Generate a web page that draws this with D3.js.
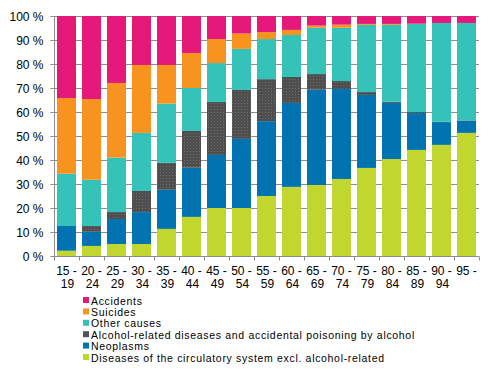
<!DOCTYPE html>
<html>
<head>
<meta charset="utf-8">
<script src="https://cdn.jsdelivr.net/npm/d3@7"></script>
<style>
  body { margin: 0; background: #fff; }
  svg { font-family: "Liberation Sans", Arial, sans-serif; }
</style>
</head>
<body>
<script>
const ageGroups = ['15 - 19','20 - 24','25 - 29','30 - 34','35 - 39','40 - 44','45 - 49','50 - 54',
  '55 - 59','60 - 64','65 - 69','70 - 74','75 - 79','80 - 84','85 - 89','90 - 94','95 -'];

// share of deaths, %
const circulatory = [2.2, 4.2, 5.0, 5.0, 11.3, 16.3, 20.0, 20.0, 25.0, 28.8, 29.6, 32.1, 36.7, 40.4, 44.2, 46.3, 51.3];
const neoplasms   = [10.3, 5.9, 10.4, 13.3, 16.3, 20.5, 22.1, 28.8, 31.2, 35.0, 39.7, 37.5, 30.4, 23.4, 15.4, 9.5, 5.0];
const alcohol     = [0.0, 2.4, 2.9, 8.8, 11.2, 15.3, 22.1, 20.4, 17.5, 10.8, 6.5, 3.3, 1.2, 0.5, 0.4, 0.1, 0.2];
const otherCauses = [21.8, 19.3, 22.7, 24.2, 24.7, 17.9, 16.2, 17.1, 16.7, 17.5, 19.3, 22.2, 28.0, 32.0, 36.7, 41.2, 40.6];
const suicides    = [31.5, 33.6, 31.1, 28.3, 16.1, 14.6, 10.0, 6.4, 2.9, 2.1, 0.9, 1.3, 0.4, 0.4, 0.1, 0.0, 0.0];
const accidents   = [34.2, 34.6, 27.9, 20.4, 20.4, 15.4, 9.6, 7.3, 6.7, 5.8, 4.0, 3.6, 3.3, 3.3, 3.2, 2.9, 2.9];

const yTicks = [0,10,20,30,40,50,60,70,80,90,100];

const seriesNames = ['Diseases of the circulatory system excl. alcohol-related','Neoplasms',
  'Alcohol-related diseases and accidental poisoning by alcohol','Other causes','Suicides','Accidents'];
const seriesData = [circulatory, neoplasms, alcohol, otherCauses, suicides, accidents];
const colors = ['#c1d72f','#0073b0','url(#dots)','#35c2b9','#f7931e','#e5197a'];
const legendColors = ['#c1d72f','#0073b0','#555555','#35c2b9','#f7931e','#e5197a'];

const rows = ageGroups.map((g,i) => {
  const r = {group: g};
  seriesNames.forEach((s,j) => r[s] = seriesData[j][i]);
  return r;
});

const svg = d3.select('body').append('svg')
  .attr('width',491)
  .attr('height',370);

// dotted grey fill for the alcohol series
const pat = svg.append('defs').append('pattern')
  .attr('id','dots').attr('patternUnits','userSpaceOnUse')
  .attr('width',3).attr('height',3);
pat.append('rect').attr('width',3).attr('height',3).attr('fill','#4e4e4e');
pat.append('rect').attr('x',1).attr('y',1).attr('width',1).attr('height',1).attr('fill','#6e6e6e');

const xScale = d3.scaleBand().domain(ageGroups).range([54,479]).paddingInner(0.24).paddingOuter(0.12);
const yScale = d3.scaleLinear().domain([0,100]).range([256,16]);

// gridlines
svg.append('g').selectAll('line')
  .data(yTicks.filter(d => d > 0))
  .enter().append('line')
  .attr('x1',54).attr('x2',479)
  .attr('y1',d => yScale(d)+0.5).attr('y2',d => yScale(d)+0.5)
  .attr('stroke','#8c8c8c').attr('stroke-width',1);

const stack = d3.stack().keys(seriesNames)(rows);

svg.append('g').selectAll('g')
  .data(stack)
  .enter().append('g')
  .attr('fill',(d,i) => colors[i])
  .selectAll('rect')
  .data(d => d)
  .enter().append('rect')
  .attr('x',d => xScale(d.data.group))
  .attr('width',xScale.bandwidth())
  .attr('y',d => yScale(Math.min(100,d[1])))
  .attr('height',d => Math.max(0, yScale(d[0]) - yScale(Math.min(100,d[1]))));

// y axis
const yAxis = d3.axisLeft(yScale).tickValues(yTicks).tickSize(4).tickFormat(d => d + ' %');
const gy = svg.append('g').attr('transform','translate(54.5,0.5)').call(yAxis);
gy.select('.domain').attr('stroke','#8c8c8c').attr('d','M0,16V256');
gy.selectAll('.tick line').attr('stroke','#8c8c8c').attr('transform','translate(0,-0.5)');
gy.selectAll('.tick text').attr('x',-11).attr('font-size',12).attr('fill','#000')
  .attr('font-family','"Liberation Sans", Arial, sans-serif');

// x axis with ticks at category boundaries
const gx = svg.append('g').attr('transform','translate(0,256.5)');
gx.append('line').attr('x1',54).attr('x2',479).attr('stroke','#8c8c8c');
const step = xScale.step();
gx.selectAll('line.tk')
  .data(d3.range(ageGroups.length + 1))
  .enter().append('line').attr('class','tk')
  .attr('x1',i => Math.round(54 + i*step)+0.5).attr('x2',i => Math.round(54 + i*step)+0.5)
  .attr('y1',0).attr('y2',4).attr('stroke','#8c8c8c');

const labels = gx.selectAll('text')
  .data(ageGroups)
  .enter().append('text')
  .attr('text-anchor','middle')
  .attr('font-size',12)
  .attr('fill','#000');
labels.append('tspan')
  .attr('x',d => xScale(d) + xScale.bandwidth()/2)
  .attr('y',18)
  .text(d => d.split(' ').length > 2 ? d.split(' ').slice(0,2).join(' ') : d);
labels.append('tspan')
  .attr('x',d => xScale(d) + xScale.bandwidth()/2 + 1)
  .attr('y',31)
  .text(d => d.split(' ')[2] || '');

// legend, top entry is the top of the stack
const legendOrder = d3.range(seriesNames.length).reverse();
const legend = svg.append('g').attr('transform','translate(83,296)');
const item = legend.selectAll('g')
  .data(legendOrder)
  .enter().append('g')
  .attr('transform',(d,i) => `translate(0,${i*11.4})`);
item.append('rect').attr('width',6).attr('height',6).attr('y',1).attr('fill',d => legendColors[d]);
item.append('text').attr('x',8).attr('y',8.5).attr('font-size',10.5)
  .attr('letter-spacing',0.68).attr('fill','#000')
  .text(d => seriesNames[d]);
</script>
</body>
</html>
